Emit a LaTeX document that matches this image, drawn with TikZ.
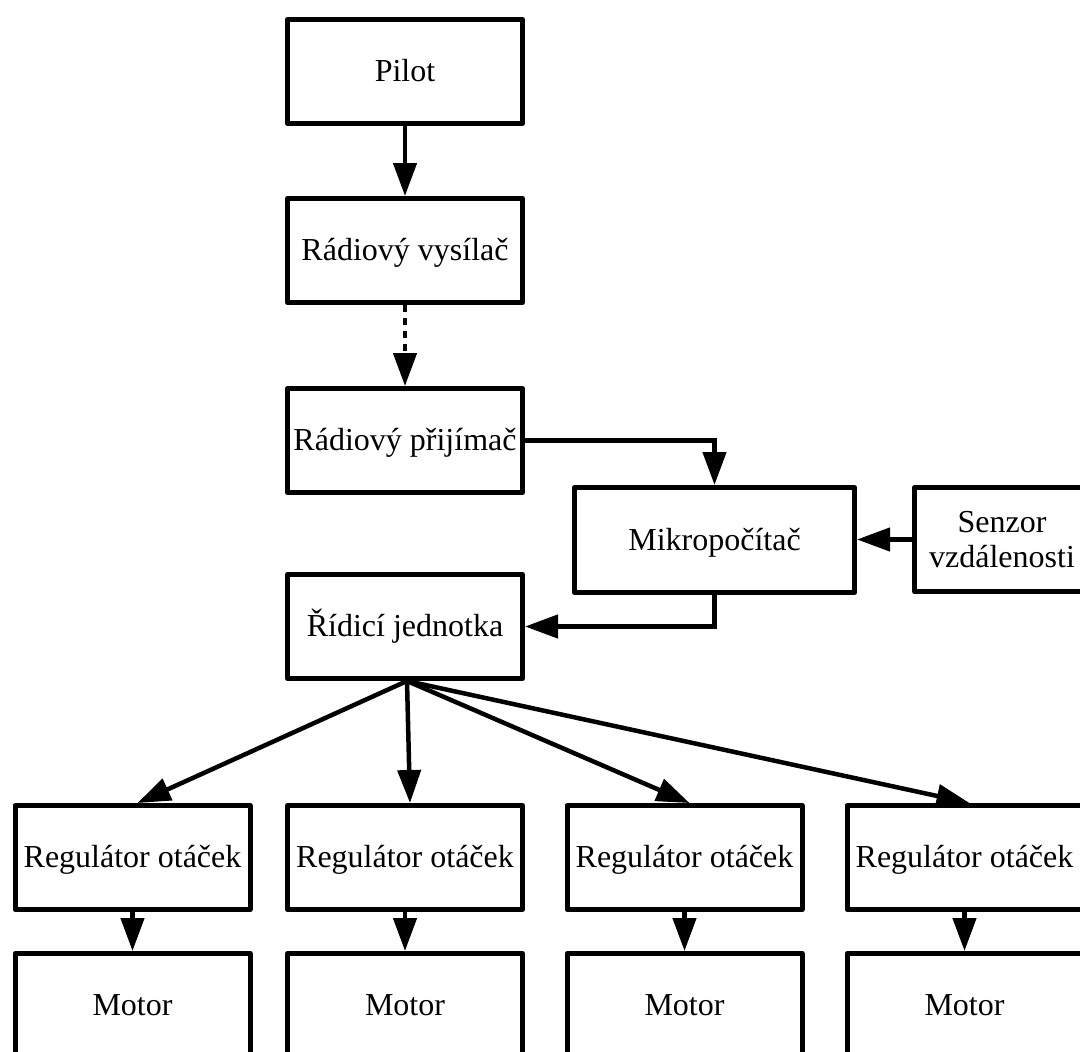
\documentclass[tikz,border=0pt]{standalone}
\usepackage{fontspec}
\setmainfont{Liberation Serif}
\usetikzlibrary{arrows.meta}
\begin{document}
\begin{tikzpicture}[x=1pt,y=-1pt,
  blk/.style={draw, line width=5pt, line join=round, inner sep=0pt,
    minimum width=235pt, minimum height=104pt,
    font=\fontsize{32}{35}\selectfont},
  oneline/.style={blk, text height=23.5pt, text depth=3.5pt},
  conn/.style={line width=4.5pt, -{Triangle[length=33pt,width=23pt]}}
]
\useasboundingbox (0,0) rectangle (1080,1052);
\clip (0,0) rectangle (1080,1052);

% upper chain
\node[oneline] (pilot) at (405,71.5) {Pilot};
\node[oneline] (vys) at (405,250.5) {Rádiový vysílač};
\node[oneline] (prij) at (405,440.5) {Rádiový přijímač};
\node[oneline, minimum width=280pt, minimum height=105pt] (mikro) at (714.5,540) {Mikropočítač};
\node[blk, align=center, minimum width=175pt] (senzor) at (1002,539.5) {Senzor\\vzdálenosti};
\node[oneline] (ridici) at (405,626.5) {Řídicí jednotka};

% speed controllers and motors
\foreach \i/\x in {1/132.5, 2/405, 3/684.5, 4/964.5} {
  \node[oneline] (reg\i) at (\x,857.5) {Regulátor otáček};
  \node[oneline] (mot\i) at (\x,1005.5) {Motor};
}

% connectors
\draw[conn] (pilot) -- (vys);
\draw[conn, dash pattern=on 7pt off 6pt] (vys) -- (prij);
\draw[conn] (prij.east) -| (mikro.north);
\draw[conn] (senzor.west) -- (senzor.west -| mikro.east);
\draw[conn] (mikro.south) |- (ridici.east);
\foreach \i in {1,2,3,4} {
  \draw[conn] ([xshift=2pt]ridici.south) -- ([xshift=5pt]reg\i.north);
  \draw[conn] (reg\i) -- (mot\i);
}
\end{tikzpicture}
\end{document}
